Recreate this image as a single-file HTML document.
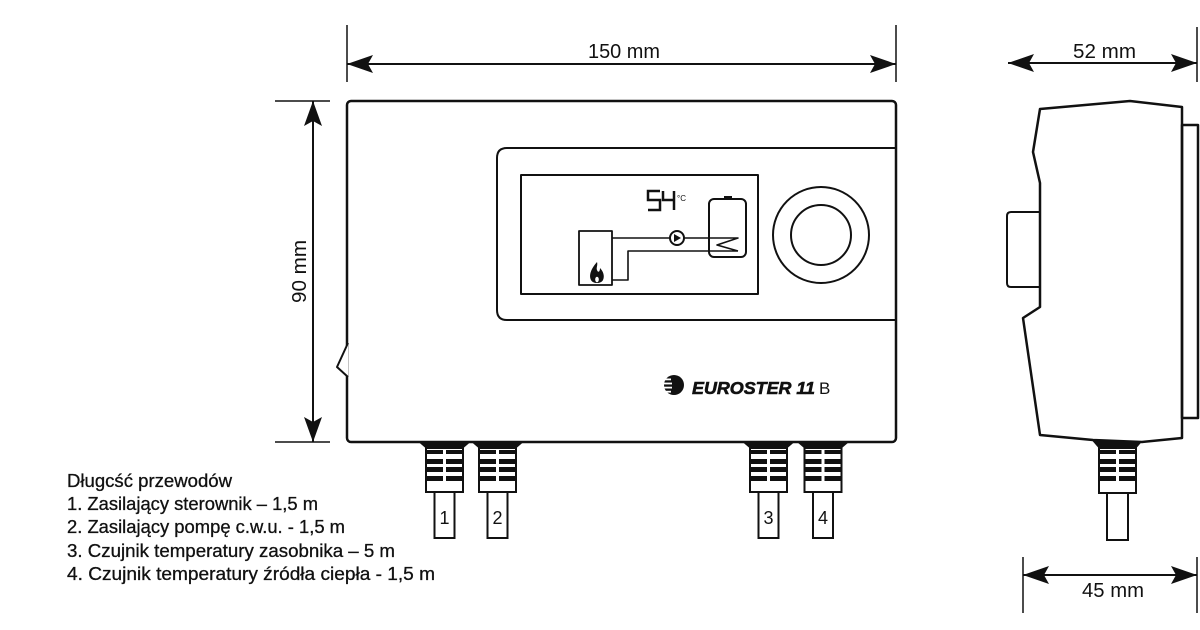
<!DOCTYPE html>
<html><head><meta charset="utf-8"><style>
html,body{margin:0;padding:0;background:#fff;}
svg{display:block;}
text{font-family:"Liberation Sans",sans-serif;fill:#111;}
</style></head><body>
<svg width="1200" height="630" viewBox="0 0 1200 630" xmlns="http://www.w3.org/2000/svg">
<rect width="1200" height="630" fill="#fff"/>
<g stroke="#111" fill="none" stroke-linejoin="round">
<!-- top dimension 150 -->
<line x1="347" y1="64" x2="896" y2="64" stroke-width="2"/>
<line x1="347" y1="25" x2="347" y2="82" stroke-width="1.5"/>
<line x1="896" y1="25" x2="896" y2="82" stroke-width="1.5"/>
<!-- vertical 90 -->
<line x1="313" y1="101" x2="313" y2="442" stroke-width="2"/>
<line x1="275" y1="101" x2="330" y2="101" stroke-width="1.5"/>
<line x1="275" y1="442" x2="330" y2="442" stroke-width="1.5"/>
<!-- 52 -->
<line x1="1008" y1="63" x2="1197" y2="63" stroke-width="2"/>
<line x1="1197" y1="27" x2="1197" y2="82" stroke-width="1.5"/>
<!-- 45 -->
<line x1="1023" y1="575" x2="1197" y2="575" stroke-width="2"/>
<line x1="1023" y1="557" x2="1023" y2="613" stroke-width="1.5"/>
<line x1="1197" y1="557" x2="1197" y2="613" stroke-width="1.5"/>
</g>
<g fill="#111">
<polygon points="347,64 373,55 368,64 373,73"/>
<polygon points="896,64 870,55 875,64 870,73"/>
<polygon points="313,101 304,126 313,121 322,126"/>
<polygon points="313,442 304,417 313,422 322,417"/>
<polygon points="1008,63 1034,54 1029,63 1034,72"/>
<polygon points="1197,63 1171,54 1176,63 1171,72"/>
<polygon points="1023,575 1049,566 1044,575 1049,584"/>
<polygon points="1197,575 1171,566 1176,575 1171,584"/>
</g>
<text x="588" y="58" font-size="20" textLength="72" lengthAdjust="spacingAndGlyphs">150 mm</text>
<text x="1073" y="58" font-size="20" textLength="63" lengthAdjust="spacingAndGlyphs">52 mm</text>
<text x="1082" y="597" font-size="20" textLength="62" lengthAdjust="spacingAndGlyphs">45 mm</text>
<text transform="translate(306,303) rotate(-90)" x="0" y="0" font-size="20" textLength="63" lengthAdjust="spacingAndGlyphs">90 mm</text>

<!-- main box -->
<g stroke="#111" fill="none" stroke-linejoin="round">
<rect x="347" y="101" width="549" height="341" rx="4" stroke-width="2.5" fill="#fff"/>
<path d="M348,343 L337,367 L348,377" stroke-width="2" fill="#fff"/>
<path d="M896,148 L507,148 Q497,148 497,158 L497,310 Q497,320 507,320 L896,320" stroke-width="2"/>
<rect x="521" y="175" width="237" height="119" stroke-width="2"/>
<rect x="579" y="231" width="33" height="54" stroke-width="1.8"/>
<path d="M612,238 H670 M684,238 H738 L717,245 L738,251 M612,280 H628 V251 H738" stroke-width="1.6"/>
<rect x="709" y="199" width="37" height="58" rx="5" stroke-width="2"/>
<circle cx="677" cy="238" r="7" stroke-width="2" fill="#fff"/>
<path d="M660,191 H648 V200 H660 V210 H648" stroke-width="2.5" stroke-linejoin="miter"/>
<path d="M663,191 V200 H675 M674,191 V210" stroke-width="2.5" stroke-linejoin="miter"/>
<circle cx="821" cy="235" r="48" stroke-width="2"/>
<circle cx="821" cy="235" r="30" stroke-width="2"/>
</g>
<rect x="724" y="196" width="8" height="4" fill="#111"/>
<polygon points="674,234 681,238 674,242" fill="#111"/>
<text x="677" y="201" font-size="8">°C</text>
<path d="M597,262 C590,270 589,276 591,280 C593,284 601,284 603,280 C605,276 603,271 600,268 C600,272 598,273 597,270 C596,268 598,265 597,262 Z" fill="#111"/>
<ellipse cx="597" cy="279.5" rx="1.8" ry="2.8" fill="#fff"/>

<!-- logo -->
<circle cx="674" cy="385" r="10" fill="#111"/>
<g fill="#fff">
<rect x="663" y="378.5" width="8" height="1.8"/>
<rect x="663" y="382.6" width="9" height="1.8"/>
<rect x="663" y="386.7" width="9" height="1.8"/>
<rect x="663" y="390.8" width="8" height="1.8"/>
</g>
<text x="692" y="394" font-size="17.5" font-weight="bold" font-style="italic" textLength="123" lengthAdjust="spacingAndGlyphs" stroke="#111" stroke-width="0.6">EUROSTER 11</text>
<text x="819" y="394" font-size="17">B</text>

<!-- connectors -->
<g>
<g transform="translate(444.5,0)">
<polygon points="-26,442 26,442 19,448 -19,448" fill="#111"/>
<rect x="-18.5" y="448" width="37" height="44" fill="#fff" stroke="#111" stroke-width="2"/>
<g fill="#111"><rect x="-18.5" y="450" width="17" height="4"/><rect x="1.5" y="450" width="17" height="4"/><rect x="-18.5" y="459" width="17" height="5"/><rect x="1.5" y="459" width="17" height="5"/><rect x="-18.5" y="467" width="17" height="5"/><rect x="1.5" y="467" width="17" height="5"/><rect x="-18.5" y="476" width="17" height="5"/><rect x="1.5" y="476" width="17" height="5"/></g>
<rect x="-10" y="492" width="20" height="46" fill="#fff" stroke="#111" stroke-width="2"/>
<text x="0" y="524" font-size="18" text-anchor="middle">1</text>
</g>
<g transform="translate(497.5,0)">
<polygon points="-26,442 26,442 19,448 -19,448" fill="#111"/>
<rect x="-18.5" y="448" width="37" height="44" fill="#fff" stroke="#111" stroke-width="2"/>
<g fill="#111"><rect x="-18.5" y="450" width="17" height="4"/><rect x="1.5" y="450" width="17" height="4"/><rect x="-18.5" y="459" width="17" height="5"/><rect x="1.5" y="459" width="17" height="5"/><rect x="-18.5" y="467" width="17" height="5"/><rect x="1.5" y="467" width="17" height="5"/><rect x="-18.5" y="476" width="17" height="5"/><rect x="1.5" y="476" width="17" height="5"/></g>
<rect x="-10" y="492" width="20" height="46" fill="#fff" stroke="#111" stroke-width="2"/>
<text x="0" y="524" font-size="18" text-anchor="middle">2</text>
</g>
<g transform="translate(768.5,0)">
<polygon points="-26,442 26,442 19,448 -19,448" fill="#111"/>
<rect x="-18.5" y="448" width="37" height="44" fill="#fff" stroke="#111" stroke-width="2"/>
<g fill="#111"><rect x="-18.5" y="450" width="17" height="4"/><rect x="1.5" y="450" width="17" height="4"/><rect x="-18.5" y="459" width="17" height="5"/><rect x="1.5" y="459" width="17" height="5"/><rect x="-18.5" y="467" width="17" height="5"/><rect x="1.5" y="467" width="17" height="5"/><rect x="-18.5" y="476" width="17" height="5"/><rect x="1.5" y="476" width="17" height="5"/></g>
<rect x="-10" y="492" width="20" height="46" fill="#fff" stroke="#111" stroke-width="2"/>
<text x="0" y="524" font-size="18" text-anchor="middle">3</text>
</g>
<g transform="translate(823,0)">
<polygon points="-26,442 26,442 19,448 -19,448" fill="#111"/>
<rect x="-18.5" y="448" width="37" height="44" fill="#fff" stroke="#111" stroke-width="2"/>
<g fill="#111"><rect x="-18.5" y="450" width="17" height="4"/><rect x="1.5" y="450" width="17" height="4"/><rect x="-18.5" y="459" width="17" height="5"/><rect x="1.5" y="459" width="17" height="5"/><rect x="-18.5" y="467" width="17" height="5"/><rect x="1.5" y="467" width="17" height="5"/><rect x="-18.5" y="476" width="17" height="5"/><rect x="1.5" y="476" width="17" height="5"/></g>
<rect x="-10" y="492" width="20" height="46" fill="#fff" stroke="#111" stroke-width="2"/>
<text x="0" y="524" font-size="18" text-anchor="middle">4</text>
</g>
</g>

<!-- side view -->
<g stroke="#111" fill="none" stroke-linejoin="round">
<path d="M1040,109 L1130,101 L1182,107 L1182,438 L1142,442 L1093,440 L1040,435 L1023,318 L1040,307 L1040,183 L1033,152 Z" stroke-width="2.5" fill="#fff"/>
<path d="M1040,212 H1011 Q1007,212 1007,216 V283 Q1007,287 1011,287 H1040" stroke-width="2"/>
<rect x="1182" y="125" width="16" height="293" stroke-width="2.5"/>
</g>
<g transform="translate(1117.5,0)">
<polygon points="-25,441 25,441 19,448 -19,448" fill="#111"/>
<rect x="-18.5" y="448" width="37" height="45" fill="#fff" stroke="#111" stroke-width="2"/>
<g fill="#111"><rect x="-18.5" y="450" width="17" height="4"/><rect x="1.5" y="450" width="17" height="4"/><rect x="-18.5" y="459" width="17" height="5"/><rect x="1.5" y="459" width="17" height="5"/><rect x="-18.5" y="467" width="17" height="5"/><rect x="1.5" y="467" width="17" height="5"/><rect x="-18.5" y="476" width="17" height="5"/><rect x="1.5" y="476" width="17" height="5"/></g>
<rect x="-10.5" y="493" width="21" height="47" fill="#fff" stroke="#111" stroke-width="2"/>
</g>

<!-- legend -->
<g stroke="#111" stroke-width="0.3">
<text x="67" y="487" font-size="18" textLength="165" lengthAdjust="spacingAndGlyphs">Długcść przewodów</text>
<text x="67" y="510" font-size="18" textLength="251" lengthAdjust="spacingAndGlyphs">1. Zasilający sterownik – 1,5 m</text>
<text x="67" y="533" font-size="18" textLength="278" lengthAdjust="spacingAndGlyphs">2. Zasilający pompę c.w.u. - 1,5 m</text>
<text x="67" y="557" font-size="18" textLength="328" lengthAdjust="spacingAndGlyphs">3. Czujnik temperatury zasobnika – 5 m</text>
<text x="67" y="580" font-size="18" textLength="368" lengthAdjust="spacingAndGlyphs">4. Czujnik temperatury źródła ciepła - 1,5 m</text>
</g>
</svg>
</body></html>
